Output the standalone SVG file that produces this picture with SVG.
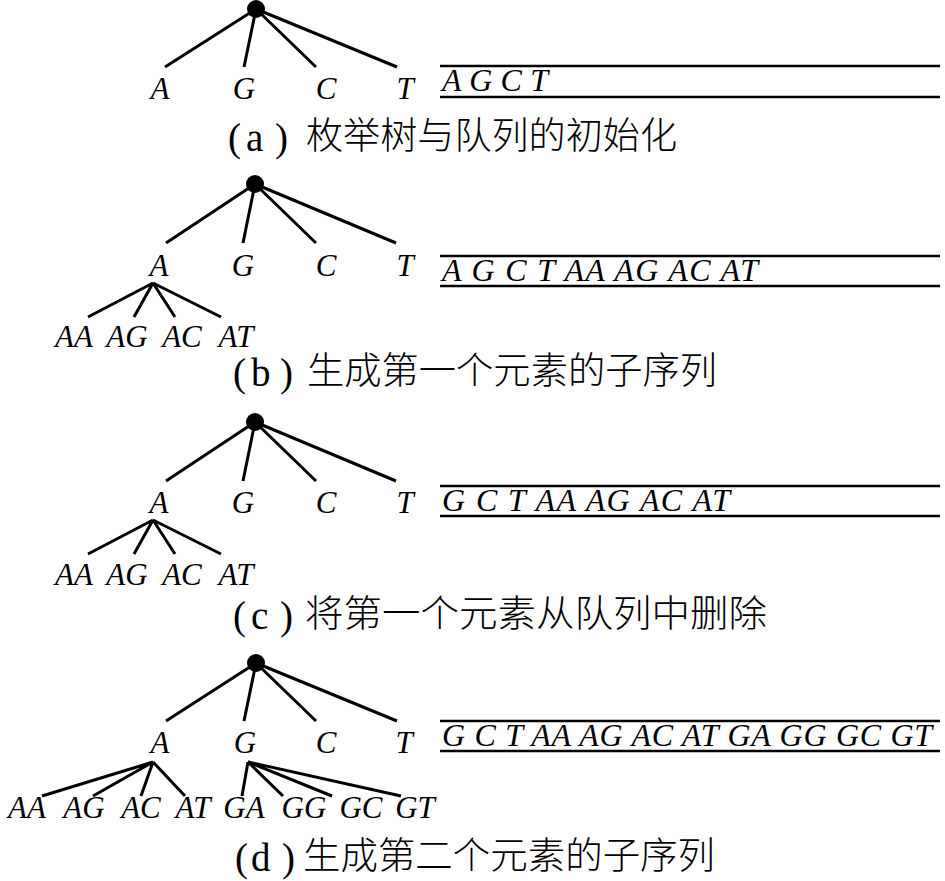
<svg xmlns="http://www.w3.org/2000/svg" width="945" height="881" viewBox="0 0 945 881">
<style>
.e{stroke:#000;stroke-width:3;stroke-linecap:butt;fill:none}
.q{stroke:#000;stroke-width:2.6}
.lbl{font-family:"Liberation Serif",serif;font-style:italic;font-size:31px;text-anchor:middle;fill:#000}
.qt{font-family:"Liberation Serif",serif;font-style:italic;font-size:32px;fill:#000}
.cp{font-family:"Liberation Serif",serif;font-size:39px;fill:#000}
.cz{font-family:"Noto Sans CJK SC",sans-serif;font-weight:300;font-size:37px;fill:#000}
</style>
<rect width="945" height="881" fill="#fff"/>

<!-- Panel (a) -->
<g id="connectors-a">
<path class="e" d="M256 9L165 67M256 9L244 67M256 9L316 67M256 9L397 67"/>
</g>
<g id="root-a"><circle cx="256" cy="9" r="9"/></g>
<g id="nodes-a">
<text class="lbl" x="160" y="99">A</text>
<text class="lbl" x="244" y="99">G</text>
<text class="lbl" x="326" y="99">C</text>
<text class="lbl" x="405" y="99">T</text>
</g>
<g id="queue-a">
<line class="q" x1="440" y1="66" x2="940" y2="66"/>
<line class="q" x1="440" y1="97" x2="940" y2="97"/>
<text class="qt" x="442" y="91" textLength="106" lengthAdjust="spacing">A G C T</text>
</g>
<g id="caption-a">
<text class="cp" y="151"><tspan x="228">(</tspan><tspan x="246">a</tspan><tspan x="275">)</tspan></text>
<text class="cz" x="306" y="149" textLength="371" lengthAdjust="spacingAndGlyphs">枚举树与队列的初始化</text>
</g>

<!-- Panel (b) -->
<g id="connectors-b">
<path class="e" d="M255 184L166 243M255 184L243 243M255 184L316 243M255 184L396 243"/>
<path class="e" d="M153 283L88 317M153 283L134 317M153 283L175 317M153 283L221 317"/>
</g>
<g id="root-b"><circle cx="255" cy="184" r="9"/></g>
<g id="nodes-b">
<text class="lbl" x="159" y="276">A</text>
<text class="lbl" x="243" y="276">G</text>
<text class="lbl" x="326" y="276">C</text>
<text class="lbl" x="405" y="276">T</text>
<text class="lbl" x="74" y="347">AA</text>
<text class="lbl" x="127" y="347">AG</text>
<text class="lbl" x="182" y="347">AC</text>
<text class="lbl" x="236" y="347">AT</text>
</g>
<g id="queue-b">
<line class="q" x1="440" y1="256" x2="940" y2="256"/>
<line class="q" x1="440" y1="286" x2="940" y2="286"/>
<text class="qt" x="442" y="281" textLength="316" lengthAdjust="spacing">A G C T AA AG AC AT</text>
</g>
<g id="caption-b">
<text class="cp" y="386"><tspan x="233">(</tspan><tspan x="251">b</tspan><tspan x="280">)</tspan></text>
<text class="cz" x="307" y="384" textLength="410" lengthAdjust="spacingAndGlyphs">生成第一个元素的子序列</text>
</g>

<!-- Panel (c) -->
<g id="connectors-c">
<path class="e" d="M255 422L166 481M255 422L243 481M255 422L316 481M255 422L396 481"/>
<path class="e" d="M153 520L88 554M153 520L134 554M153 520L175 554M153 520L221 554"/>
</g>
<g id="root-c"><circle cx="255" cy="422" r="9"/></g>
<g id="nodes-c">
<text class="lbl" x="159" y="513">A</text>
<text class="lbl" x="243" y="513">G</text>
<text class="lbl" x="326" y="513">C</text>
<text class="lbl" x="405" y="513">T</text>
<text class="lbl" x="74" y="585">AA</text>
<text class="lbl" x="127" y="585">AG</text>
<text class="lbl" x="182" y="585">AC</text>
<text class="lbl" x="236" y="585">AT</text>
</g>
<g id="queue-c">
<line class="q" x1="440" y1="486" x2="940" y2="486"/>
<line class="q" x1="440" y1="516" x2="940" y2="516"/>
<text class="qt" x="442" y="511" textLength="288" lengthAdjust="spacing">G C T AA AG AC AT</text>
</g>
<g id="caption-c">
<text class="cp" y="629"><tspan x="233">(</tspan><tspan x="251">c</tspan><tspan x="280">)</tspan></text>
<text class="cz" x="305" y="627" textLength="462" lengthAdjust="spacingAndGlyphs">将第一个元素从队列中删除</text>
</g>

<!-- Panel (d) -->
<g id="connectors-d">
<path class="e" d="M256 663L166 721M256 663L244 721M256 663L316 721M256 663L397 721"/>
<path class="e" d="M153 762L42 796M153 762L93 796M153 762L141 796M153 762L185 796"/>
<path class="e" d="M248 762L242 796M248 762L283 796M248 762L332 796M248 762L401 796"/>
</g>
<g id="root-d"><circle cx="256" cy="663" r="9"/></g>
<g id="nodes-d">
<text class="lbl" x="160" y="753">A</text>
<text class="lbl" x="245" y="753">G</text>
<text class="lbl" x="326" y="753">C</text>
<text class="lbl" x="404" y="753">T</text>
<text class="lbl" x="27" y="818">AA</text>
<text class="lbl" x="84" y="818">AG</text>
<text class="lbl" x="141" y="818">AC</text>
<text class="lbl" x="193" y="818">AT</text>
<text class="lbl" x="244" y="818">GA</text>
<text class="lbl" x="304" y="818">GG</text>
<text class="lbl" x="361" y="818">GC</text>
<text class="lbl" x="415" y="818">GT</text>
</g>
<g id="queue-d">
<line class="q" x1="440" y1="721" x2="940" y2="721"/>
<line class="q" x1="440" y1="751" x2="940" y2="751"/>
<text class="qt" x="442" y="746" textLength="490" lengthAdjust="spacing">G C T AA AG AC AT GA GG GC GT</text>
</g>
<g id="caption-d">
<text class="cp" y="871"><tspan x="235">(</tspan><tspan x="251">d</tspan><tspan x="282">)</tspan></text>
<text class="cz" x="303" y="869" textLength="412" lengthAdjust="spacingAndGlyphs">生成第二个元素的子序列</text>
</g>
</svg>
